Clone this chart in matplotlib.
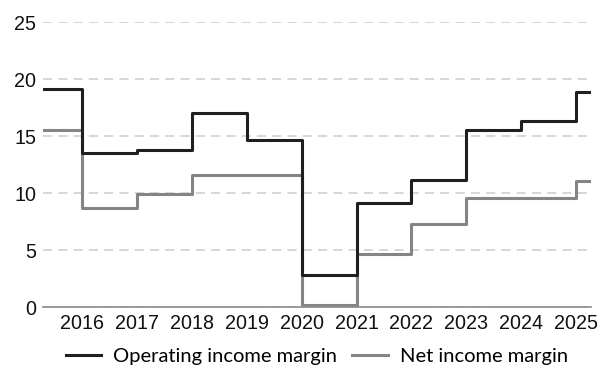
import matplotlib
matplotlib.use("Agg")
import matplotlib.pyplot as plt

plt.rcParams['font.family'] = ['Lato', 'DejaVu Sans']

# x positions (fractional years; data extends slightly beyond the first/last tick)
x_years = [2015.29, 2016, 2017, 2018, 2019, 2020, 2021, 2022, 2023, 2024, 2025, 2025.27]
operating_margin = [19.1, 13.5, 13.8, 17.0, 14.65, 2.8, 9.1, 11.15, 15.5, 16.35, 18.9, 18.9]
net_margin = [15.5, 8.7, 9.9, 11.6, 11.6, 0.15, 4.65, 7.3, 9.6, 9.6, 11.05, 11.05]
year_ticks = [2016, 2017, 2018, 2019, 2020, 2021, 2022, 2023, 2024, 2025]
y_ticks = [0, 5, 10, 15, 20, 25]

fig = plt.figure(figsize=(6.08, 3.69), dpi=100)
ax = fig.add_axes([0.0707, 0.168, 0.9013, 0.772])

ax.plot(x_years, operating_margin, drawstyle='steps-post', color='#1f1f1f', lw=2.2,
        label='Operating income margin', zorder=3)
ax.plot(x_years, net_margin, drawstyle='steps-post', color='#858585', lw=2.2,
        label='Net income margin', zorder=2)

ax.set_xlim(x_years[0], x_years[-1])
ax.set_ylim(0, 25)
ax.set_yticks(y_ticks)
ax.set_xticks(year_ticks)
ax.set_xticklabels([str(y) for y in year_ticks])

for s in ['top', 'right', 'left']:
    ax.spines[s].set_visible(False)
ax.spines['bottom'].set_color('#8a8a8a')
ax.spines['bottom'].set_linewidth(1.2)

ax.yaxis.grid(True, color='#cccccc', linestyle=(0, (6, 4)), lw=1.1)
ax.set_axisbelow(True)
ax.tick_params(axis='both', length=0, labelsize=14.2, colors='#111111')
ax.tick_params(axis='x', pad=5)
ax.tick_params(axis='y', pad=5)
for lbl in ax.get_xticklabels() + ax.get_yticklabels():
    lbl.set_fontfamily(['Liberation Sans', 'DejaVu Sans'])

leg = ax.legend(loc='center', bbox_to_anchor=(0.5, -0.172), ncol=2, frameon=False,
                fontsize=14.5, handlelength=1.75, columnspacing=0.75, handletextpad=0.6,
                borderaxespad=0)

fig.savefig('out.png', dpi=100)
